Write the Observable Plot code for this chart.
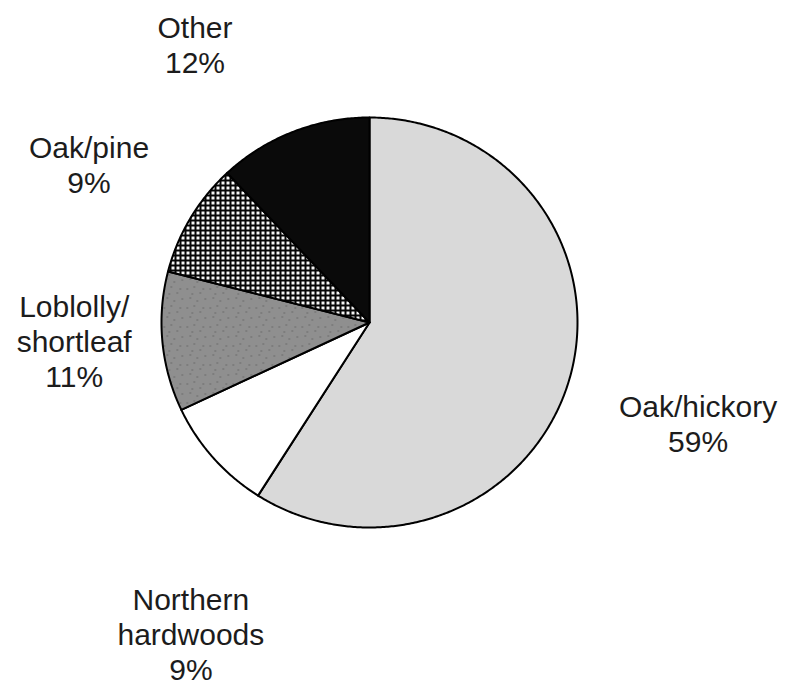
<!DOCTYPE html>
<html>
<head>
<meta charset="utf-8">
<script src="https://cdn.jsdelivr.net/npm/d3@7"></script>
<script src="https://cdn.jsdelivr.net/npm/@observablehq/plot@0.6"></script>
<style>
  html, body { margin: 0; padding: 0; background: #fff; }
  #chart { width: 785px; height: 689px; }
</style>
</head>
<body>
<div id="chart"></div>
<script>
// ---- data ----
const categories = ["Oak/hickory", "Northern hardwoods", "Loblolly/shortleaf", "Oak/pine", "Other"];
const percents = [59, 9, 11, 9, 12];
const labelNames = ["Oak/hickory", "Northern\nhardwoods", "Loblolly/\nshortleaf", "Oak/pine", "Other"];

// ---- styles ----
const fills = ["#d9d9d9", "#ffffff", "url(#speckle)", "url(#dots)", "#0a0a0a"];
const labelRadius = 1.6;
const labelShift = [[9, 9], [71, 94], [36, -13], [6, 9], [-52, 27]];

// ---- geometry from data ----
const arcs = d3.pie().sort(null).value(d => d)(percents);
const pts = [];
arcs.forEach((a, i) => {
  const name = categories[i];
  pts.push({name, u: 0, v: 0});
  const n = Math.max(2, Math.ceil((a.endAngle - a.startAngle) / (Math.PI / 360)));
  for (let k = 0; k <= n; k++) {
    const t = a.startAngle + (a.endAngle - a.startAngle) * k / n;
    pts.push({name, u: Math.sin(t), v: Math.cos(t)});
  }
  pts.push({name, u: 0, v: 0});
});
const labels = arcs.map((a, i) => {
  const m = (a.startAngle + a.endAngle) / 2;
  return {
    text: labelNames[i] + "\n" + percents[i] + "%",
    u: labelRadius * Math.sin(m),
    v: labelRadius * Math.cos(m),
    dx: labelShift[i][0],
    dy: labelShift[i][1]
  };
});

const W = 785, H = 689, cx = 369, cy = 322, rx = 208, ry = 205;

const plot = Plot.plot({
  width: W,
  height: H,
  margin: 0,
  style: {background: "#fff", overflow: "visible"},
  x: {domain: [-cx / rx, (W - cx) / rx], axis: null},
  y: {domain: [(cy - H) / ry, cy / ry], axis: null},
  color: {domain: categories, range: fills},
  marks: [
    Plot.line(pts, {x: "u", y: "v", z: "name", fill: "name", stroke: "#000", strokeWidth: 2, strokeLinejoin: "round"}),
    ...labels.map(l => Plot.text([l], {
      x: "u", y: "v", text: "text", dx: l.dx, dy: l.dy,
      fontSize: 30, fontFamily: "Liberation Sans, Arial, Helvetica, sans-serif",
      lineHeight: 1.17, fill: "#1c1c1c", textAnchor: "middle", lineAnchor: "middle"
    }))
  ]
});

// patterns
const svg = d3.select(plot);
const defs = svg.insert("defs", ":first-child");
const dots = defs.append("pattern").attr("id", "dots").attr("patternUnits", "userSpaceOnUse")
  .attr("width", 5).attr("height", 5);
dots.append("rect").attr("width", 5).attr("height", 5).attr("fill", "#050505");
dots.append("rect").attr("x", 1).attr("y", 1).attr("width", 3).attr("height", 3).attr("fill", "#f4f4f4");

const sp = defs.append("pattern").attr("id", "speckle").attr("patternUnits", "userSpaceOnUse")
  .attr("width", 23).attr("height", 19);
sp.append("rect").attr("width", 23).attr("height", 19).attr("fill", "#8f8f8f");
[[2,3],[9,1],[15,7],[20,13],[5,12],[12,15],[18,3],[7,8]].forEach(([x, y]) => {
  sp.append("rect").attr("x", x).attr("y", y).attr("width", 1.5).attr("height", 1).attr("fill", "#5e5e5e");
});

document.getElementById("chart").appendChild(plot);
</script>
</body>
</html>
